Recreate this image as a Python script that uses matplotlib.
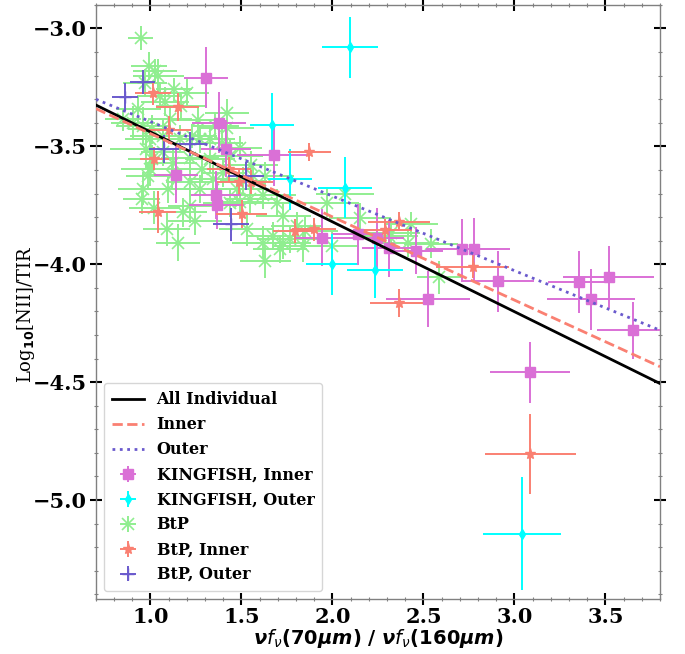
import numpy as np
import matplotlib
matplotlib.use("Agg")
import matplotlib.pyplot as plt
from matplotlib.ticker import MultipleLocator

plt.rcParams['mathtext.fontset'] = 'dejavusans'

# ---- fit lines (slope, intercept) ----
fit_names = ["All Individual", "Inner", "Outer"]
fit_slopes = [-0.381, -0.353, -0.316]
fit_intercepts = [-3.058, -3.093, -3.079]

# ---- KINGFISH, Inner ----
kin_x = [1.305, 1.376, 1.415, 1.677, 1.141, 1.360, 1.364, 1.944, 2.139, 2.243, 2.312,
         2.458, 2.712, 2.778, 2.908, 2.525, 3.357, 3.420, 3.519, 3.654, 3.087]
kin_y = [-3.208, -3.400, -3.510, -3.537, -3.620, -3.706, -3.750, -3.887, -3.873, -3.890, -3.932,
         -3.942, -3.936, -3.935, -4.073, -4.148, -4.075, -4.148, -4.054, -4.280, -4.459]
kin_xerr = [0.12, 0.15, 0.14, 0.20, 0.12, 0.14, 0.15, 0.15, 0.14, 0.15, 0.15,
            0.15, 0.20, 0.20, 0.20, 0.23, 0.17, 0.24, 0.25, 0.20, 0.22]
kin_yerr = [0.13, 0.13, 0.12, 0.13, 0.12, 0.10, 0.10, 0.12, 0.13, 0.13, 0.12,
            0.10, 0.13, 0.13, 0.13, 0.12, 0.13, 0.13, 0.13, 0.12, 0.13]

# ---- KINGFISH, Outer ----
kout_x = [2.096, 1.669, 1.768, 2.069, 1.996, 2.235, 3.043]
kout_y = [-3.080, -3.410, -3.640, -3.675, -4.000, -4.024, -5.143]
kout_xerr = [0.155, 0.12, 0.12, 0.15, 0.14, 0.155, 0.215]
kout_yerr = [0.13, 0.135, 0.13, 0.13, 0.13, 0.12, 0.24]

# ---- BtP ----
btp_x = [0.946, 0.993, 1.024, 1.043, 1.052, 1.130, 1.202, 0.960, 1.006, 1.107,
         1.070, 1.226, 1.272, 1.162, 0.850, 0.905, 0.978, 1.006, 0.997, 0.988,
         0.960, 0.951, 1.097, 1.088, 1.152, 1.244, 1.281, 1.327, 1.419, 1.354,
         1.419, 1.492, 1.437, 1.327, 1.217, 1.125, 1.068, 1.473, 1.547, 1.492,
         1.528, 1.620, 1.693, 1.620, 1.675, 1.730, 1.767, 1.840, 1.803, 1.968,
         1.730, 1.217, 1.272, 1.217, 1.345, 1.400, 1.629, 1.565, 1.510, 1.391,
         1.437, 2.069, 2.151, 2.322, 2.432, 2.414, 2.542, 2.587, 2.311, 1.996,
         1.849, 1.712, 1.630, 0.970, 1.080, 0.930, 1.170, 1.260, 1.000, 1.550,
         1.120, 1.020, 1.180]
btp_y = [-3.040, -3.160, -3.180, -3.200, -3.287, -3.258, -3.272, -3.414, -3.428, -3.386,
         -3.456, -3.456, -3.470, -3.470, -3.386, -3.400, -3.513, -3.555, -3.597, -3.626,
         -3.680, -3.725, -3.680, -3.852, -3.908, -3.816, -3.597, -3.470, -3.357, -3.414,
         -3.421, -3.505, -3.541, -3.555, -3.548, -3.569, -3.525, -3.680, -3.725, -3.738,
         -3.852, -3.706, -3.739, -3.908, -3.880, -3.908, -3.894, -3.922, -3.838, -3.739,
         -3.795, -3.653, -3.680, -3.753, -3.640, -3.611, -3.626, -3.626, -3.647, -3.485,
         -3.739, -3.703, -3.802, -3.866, -3.830, -3.908, -3.912, -4.056, -3.880, -3.922,
         -3.860, -3.936, -3.987, -3.230, -3.310, -3.340, -3.330, -3.390, -3.470, -3.580,
         -3.620, -3.760, -3.780]
btp_xerr = [0.07, 0.10, 0.12, 0.14, 0.12, 0.10, 0.12, 0.15, 0.13, 0.12,
            0.18, 0.14, 0.12, 0.15, 0.10, 0.12, 0.20, 0.13, 0.16, 0.12,
            0.14, 0.10, 0.15, 0.13, 0.12, 0.15, 0.13, 0.14, 0.12, 0.13,
            0.15, 0.12, 0.18, 0.14, 0.16, 0.13, 0.12, 0.17, 0.14, 0.13,
            0.15, 0.18, 0.16, 0.17, 0.14, 0.15, 0.18, 0.16, 0.14, 0.18,
            0.15, 0.13, 0.15, 0.12, 0.14, 0.12, 0.16, 0.14, 0.13, 0.12,
            0.15, 0.16, 0.17, 0.16, 0.15, 0.17, 0.15, 0.12, 0.16, 0.15,
            0.18, 0.15, 0.14, 0.12, 0.13, 0.12, 0.14, 0.15, 0.14, 0.15,
            0.13, 0.14, 0.13]
btp_yerr = [0.05, 0.06, 0.05, 0.07, 0.06, 0.05, 0.06, 0.08, 0.06, 0.06,
            0.07, 0.05, 0.06, 0.06, 0.05, 0.07, 0.08, 0.06, 0.07, 0.06,
            0.07, 0.06, 0.06, 0.07, 0.08, 0.06, 0.06, 0.05, 0.06, 0.06,
            0.06, 0.05, 0.07, 0.06, 0.06, 0.06, 0.06, 0.07, 0.06, 0.06,
            0.07, 0.06, 0.06, 0.07, 0.06, 0.07, 0.06, 0.07, 0.06, 0.06,
            0.06, 0.06, 0.06, 0.07, 0.06, 0.06, 0.06, 0.05, 0.06, 0.06,
            0.06, 0.06, 0.06, 0.06, 0.05, 0.06, 0.06, 0.07, 0.06, 0.06,
            0.06, 0.06, 0.07, 0.06, 0.06, 0.06, 0.06, 0.06, 0.06, 0.06,
            0.06, 0.07, 0.06]

# ---- BtP, Inner ----
bin_x = [1.015, 1.149, 1.103, 1.021, 1.039, 1.873, 1.430, 1.486, 1.552, 1.501,
         1.796, 1.898, 2.289, 2.367, 2.771, 2.367, 3.087]
bin_y = [-3.275, -3.333, -3.430, -3.552, -3.778, -3.524, -3.597, -3.650, -3.651, -3.788,
         -3.859, -3.852, -3.856, -3.820, -4.010, -4.165, -4.804]
bin_xerr = [0.10, 0.12, 0.12, 0.08, 0.10, 0.12, 0.12, 0.12, 0.12, 0.14,
            0.12, 0.12, 0.15, 0.17, 0.20, 0.16, 0.25]
bin_yerr = [0.05, 0.06, 0.06, 0.05, 0.09, 0.04, 0.05, 0.05, 0.05, 0.06,
            0.05, 0.05, 0.05, 0.04, 0.05, 0.06, 0.17]

# ---- BtP, Outer ----
bout_x = [0.859, 0.957, 1.074, 1.217, 1.525, 1.442]
bout_y = [-3.291, -3.226, -3.510, -3.489, -3.627, -3.830]
bout_xerr = [0.07, 0.07, 0.08, 0.09, 0.10, 0.10]
bout_yerr = [0.06, 0.05, 0.06, 0.05, 0.06, 0.07]

XLIM = (0.7, 3.8)
YLIM = (-5.42, -2.90)

fig = plt.figure(figsize=(6.85, 6.54), dpi=100)
ax = fig.add_axes([0.140, 0.084, 0.8235, 0.9085])

eb_kw = dict(linestyle='none', elinewidth=1.4, capsize=0)

h_btp = ax.errorbar(btp_x, btp_y, xerr=btp_xerr, yerr=btp_yerr, fmt='x', color='#90EE90',
                    ms=8, mew=1.2, label='BtP', zorder=2, **eb_kw)
h_kin = ax.errorbar(kin_x, kin_y, xerr=kin_xerr, yerr=kin_yerr, fmt='s', color='#DA70D6',
                    ms=7, label='KINGFISH, Inner', zorder=3, **eb_kw)
h_kout = ax.errorbar(kout_x, kout_y, xerr=kout_xerr, yerr=kout_yerr, fmt='d', color='#00FFFF',
                     ms=5, label='KINGFISH, Outer', zorder=3, **eb_kw)
h_bin = ax.errorbar(bin_x, bin_y, xerr=bin_xerr, yerr=bin_yerr, fmt='*', color='#FA8072',
                    ms=8, label='BtP, Inner', zorder=3, **eb_kw)
h_bout = ax.errorbar(bout_x, bout_y, xerr=bout_xerr, yerr=bout_yerr, fmt='+', color='#6A5ACD',
                     ms=8, label='BtP, Outer', zorder=3, **eb_kw)

xx = np.array(XLIM)
styles = [dict(color='black', ls='-', lw=2.0),
          dict(color='#FA8072', ls='--', lw=2.0),
          dict(color='#6A5ACD', ls=':', lw=2.0)]
line_handles = []
for name, m, b, st in zip(fit_names, fit_slopes, fit_intercepts, styles):
    ln, = ax.plot(xx, m * xx + b, label=name, zorder=4, **st)
    line_handles.append(ln)

ax.set_xlim(*XLIM)
ax.set_ylim(*YLIM)

ax.xaxis.set_major_locator(MultipleLocator(0.5))
ax.xaxis.set_minor_locator(MultipleLocator(0.1))
ax.yaxis.set_major_locator(MultipleLocator(0.5))
ax.yaxis.set_minor_locator(MultipleLocator(0.1))
ax.tick_params(which='major', direction='inout', length=9, width=1.5, color='black',
               top=True, right=True, labelsize=15)
ax.tick_params(axis='x', which='major', pad=1)
ax.tick_params(axis='y', which='major', pad=2)
ax.tick_params(which='minor', direction='inout', length=3, width=0.8, color='gray',
               top=True, right=True)
for lab in ax.get_xticklabels() + ax.get_yticklabels():
    lab.set_family('DejaVu Serif')
    lab.set_fontweight('bold')
for sp in ax.spines.values():
    sp.set_color('gray')
    sp.set_linewidth(1.0)

ax.set_xlabel(r'$\boldsymbol{\nu f_\nu(70\mu m)}$ / $\boldsymbol{\nu f_\nu(160\mu m)}$',
              fontsize=14, fontweight='bold', labelpad=0)
ax.set_ylabel(r'Log$_{\mathbf{10}}$[NII]/TIR', fontsize=13, family='DejaVu Serif')
ax.yaxis.set_label_coords(-0.105, 0.48)

handles = line_handles + [h_kin, h_kout, h_btp, h_bin, h_bout]
labels = [h.get_label() for h in handles]
ax.legend(handles, labels, loc='lower left', prop=dict(family='DejaVu Serif', weight='bold', size=11.5),
          borderpad=0.5, labelspacing=0.5, handletextpad=0.8)

fig.savefig('out.png', dpi=100)
